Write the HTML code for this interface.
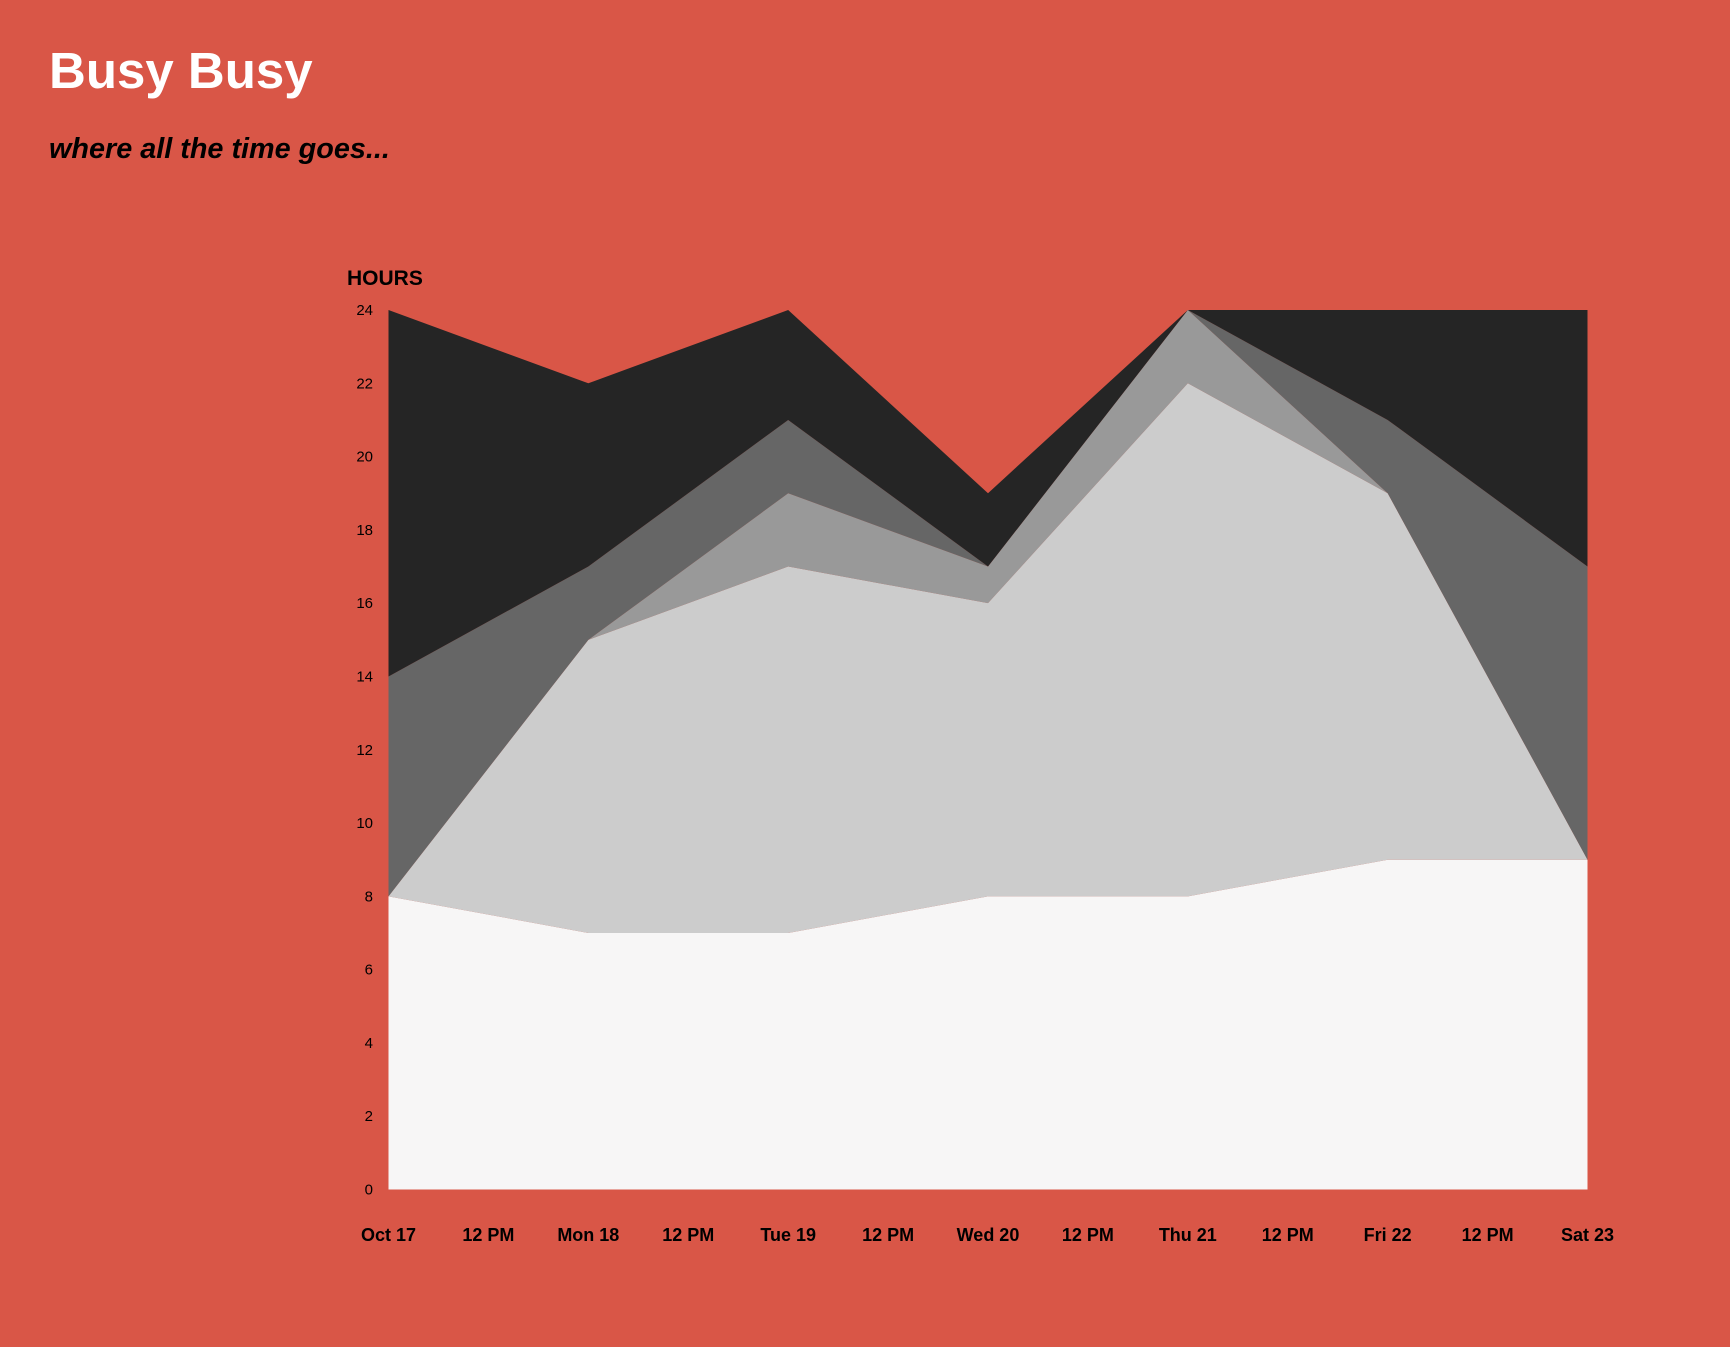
<!DOCTYPE html>
<html><head><meta charset="utf-8"><style>
body{margin:0;background:#d95647;width:1730px;height:1342px;overflow:hidden;font-family:"Liberation Sans",Arial,sans-serif}
</style></head><body>
<svg width="1730" height="1342" xmlns="http://www.w3.org/2000/svg">
<rect width="1730" height="1342" fill="#d95647"/>
<text x="49" y="88" font-size="51" font-weight="bold" fill="#fff">Busy Busy</text>
<text x="49" y="158" font-size="28.8" font-weight="bold" font-style="italic" fill="#000">where all the time goes...</text>
<text x="347" y="285" font-size="21" font-weight="bold" fill="#000">HOURS</text>
<g id="areas"></g><g id="yt"></g><g id="xt"></g>
</svg>
<script>
const days=["Oct 17","Mon 18","Tue 19","Wed 20","Thu 21","Fri 22","Sat 23"];
const xLabels=["Oct 17","12 PM","Mon 18","12 PM","Tue 19","12 PM","Wed 20","12 PM","Thu 21","12 PM","Fri 22","12 PM","Sat 23"];
const sleep=[8,7,7,8,8,9,9];
const work=[0,8,10,8,14,10,0];
const commute=[0,0,2,1,2,0,0];
const chores=[6,2,2,0,0,2,8];
const leisure=[10,5,3,2,0,3,7];
const yTicks=[0,2,4,6,8,10,12,14,16,18,20,22,24];
const series=[sleep,work,commute,chores,leisure];
const colors=["#f7f6f6","#cccccc","#999999","#666666","#252525"];
const names=["sleep-area","work-area","commute-area","chores-area","leisure-area"];
const X0=388.5,X1=1587.5,Y0=1189.5,Y1=310;
const x=i=>X0+(X1-X0)*i/(days.length-1);
const y=v=>Y0-(Y0-Y1)*v/24;
const NS="http://www.w3.org/2000/svg";
const ga=document.getElementById('areas');
let base=days.map(()=>0);
series.forEach((s,k)=>{
  const top=base.map((b,i)=>b+s[i]);
  let pts=top.map((v,i)=>x(i)+","+y(v));
  for(let i=days.length-1;i>=0;i--)pts.push(x(i)+","+y(base[i]));
  const p=document.createElementNS(NS,'polygon');
  p.setAttribute('points',pts.join(' '));
  p.setAttribute('fill',colors[k]);
  
  
  ga.appendChild(p);
  base=top;
});
const gy=document.getElementById('yt');
yTicks.forEach(v=>{
  const t=document.createElementNS(NS,'text');
  t.setAttribute('x',373);t.setAttribute('y',y(v)+5);
  t.setAttribute('text-anchor','end');t.setAttribute('font-size','15');
  t.textContent=v;
  
  
  gy.appendChild(t);
});
const gx=document.getElementById('xt');
xLabels.forEach((l,i)=>{
  const t=document.createElementNS(NS,'text');
  t.setAttribute('x',X0+(X1-X0)*i/(xLabels.length-1));t.setAttribute('y',1241);
  t.setAttribute('text-anchor','middle');t.setAttribute('font-size','18');t.setAttribute('font-weight','bold');
  t.textContent=l;
  
  
  gx.appendChild(t);
});
</script>
</body></html>
